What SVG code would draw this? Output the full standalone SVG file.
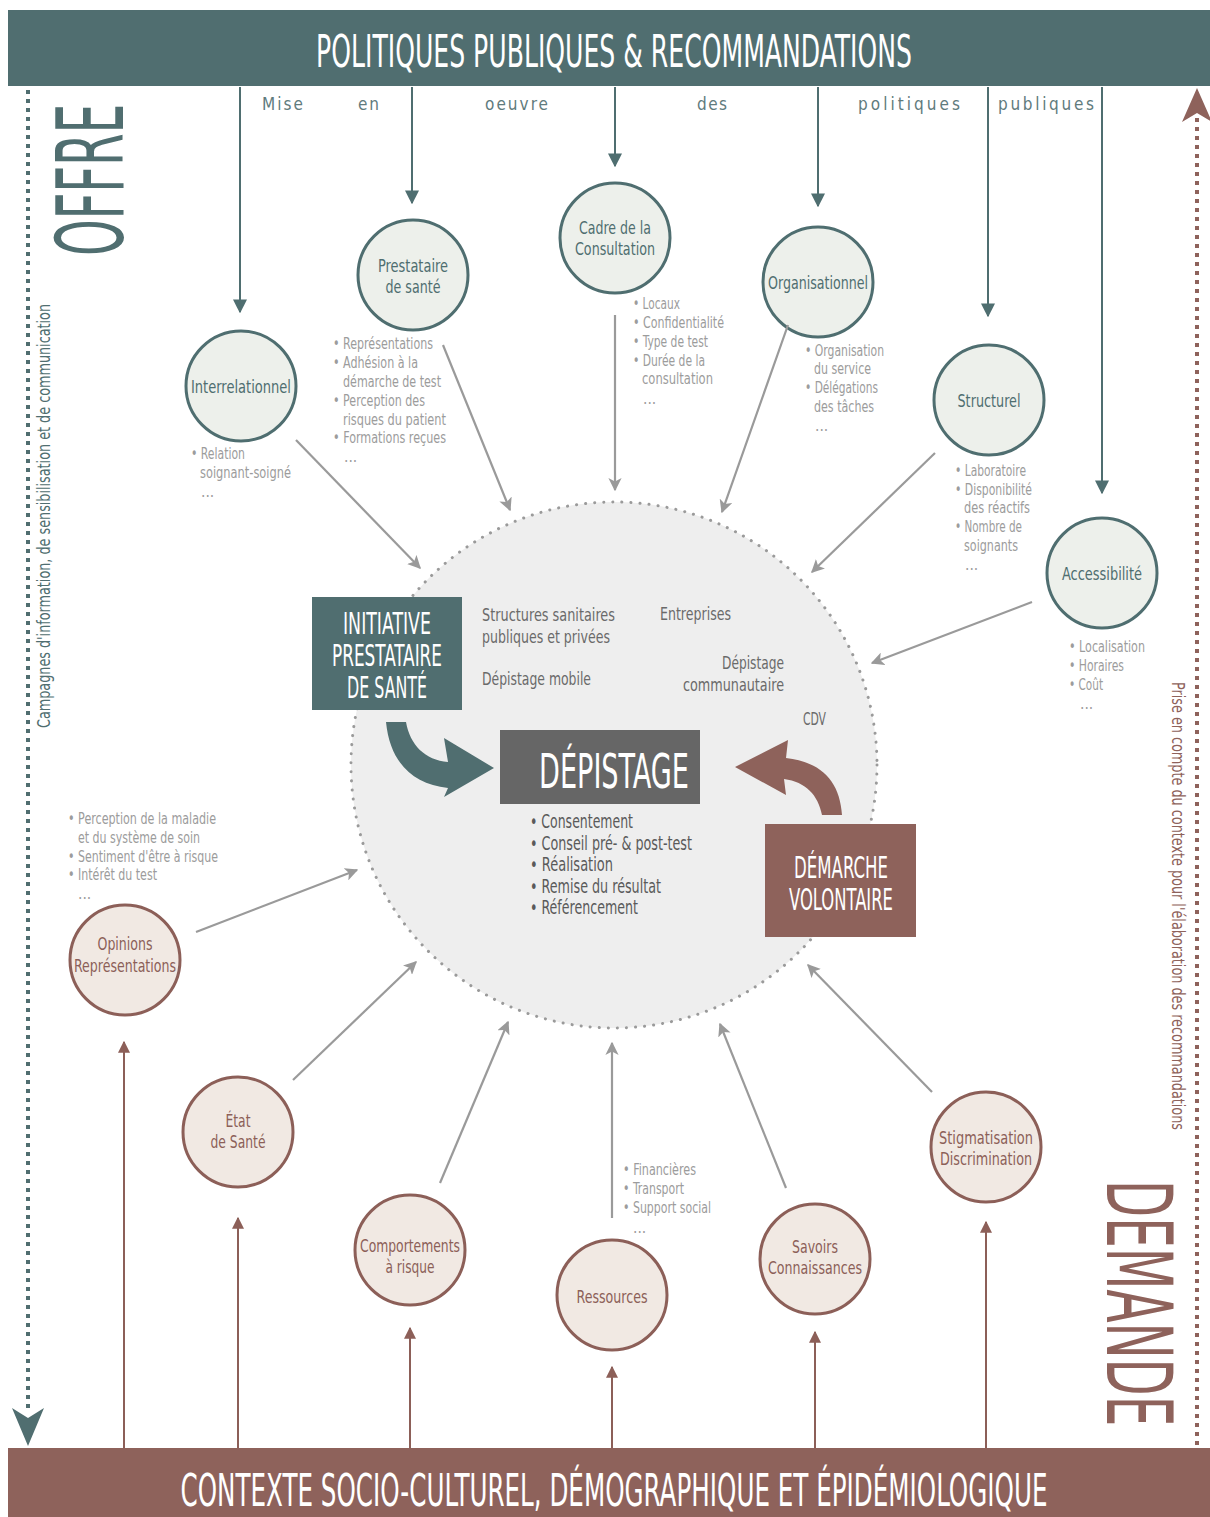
<svg xmlns="http://www.w3.org/2000/svg" width="1210" height="1517" viewBox="0 0 1210 1517">
<defs>
<style>
text{font-family:'DejaVu Sans Condensed','DejaVu Sans','Liberation Sans Narrow',sans-serif;font-stretch:condensed;}
.ann{font-size:15.5px;fill:#9c9c9c;}
.inn{font-size:18px;fill:#6a6a6a;}
.bul{font-size:19px;fill:#5a5a5a;}
.tl{font-size:18px;fill:#4f6e70;text-anchor:middle;}
.bl{font-size:18px;fill:#8c5f58;text-anchor:middle;}
.tc{fill:#edf0eb;stroke:#4f6e70;stroke-width:3;}
.bc{fill:#f1e9e3;stroke:#8c5f58;stroke-width:3;}
.ta{stroke:#4f6e70;stroke-width:2;fill:none;}
.ba{stroke:#8c5f58;stroke-width:2;fill:none;}
.ga{stroke:#9a9a9a;stroke-width:2.2;fill:none;}
.wt{fill:#ffffff;text-anchor:middle;}
</style>
<marker id="mt" viewBox="0 0 10 10" refX="9" refY="5" markerWidth="7" markerHeight="7" markerUnits="strokeWidth" orient="auto"><path d="M0,0 L10,5 L0,10 Z" fill="#4f6e70"/></marker>
<marker id="mb" viewBox="0 0 10 10" refX="9" refY="5" markerWidth="6" markerHeight="6" markerUnits="strokeWidth" orient="auto"><path d="M0,0 L10,5 L0,10 Z" fill="#8c5f58"/></marker>
<marker id="mg" viewBox="0 0 10 10" refX="9" refY="5" markerWidth="6" markerHeight="6" markerUnits="strokeWidth" orient="auto"><path d="M0,0 L10,5 L0,10 L2.5,5 Z" fill="#9a9a9a"/></marker>
</defs>
<rect width="1210" height="1517" fill="#ffffff"/>

<g id="top-banner">
<rect x="8" y="10" width="1202" height="76" fill="#506e70"/>
<text transform="translate(614,67) scale(0.6,1)" x="0" y="0" class="wt" font-size="44" textLength="993" lengthAdjust="spacingAndGlyphs">POLITIQUES PUBLIQUES &amp; RECOMMANDATIONS</text>
</g>
<g id="bottom-banner">
<rect x="8" y="1448" width="1202" height="69" fill="#8e625b"/>
<text transform="translate(614,1506) scale(0.6,1)" x="0" y="0" class="wt" font-size="44" textLength="1445" lengthAdjust="spacingAndGlyphs">CONTEXTE SOCIO-CULTUREL, DÉMOGRAPHIQUE ET ÉPIDÉMIOLOGIQUE</text>
</g>

<g id="side-offre">
<line x1="28" y1="90" x2="28" y2="1412" stroke="#506e70" stroke-width="4" stroke-dasharray="4,5"/>
<path d="M12,1408 L28,1418 L44,1408 L28,1446 Z" fill="#506e70"/>
<text transform="translate(123,256) rotate(-90) scale(0.53,1)" font-size="92" fill="#506e70" textLength="287" lengthAdjust="spacingAndGlyphs">OFFRE</text>
<text transform="translate(50,728) rotate(-90)" font-size="17" fill="#506e70" textLength="424" lengthAdjust="spacingAndGlyphs">Campagnes d'information, de sensibilisation et de communication</text>
</g>
<g id="side-demande">
<line x1="1197" y1="118" x2="1197" y2="1445" stroke="#8e625b" stroke-width="4" stroke-dasharray="4,5"/>
<path d="M1197,88 L1212,122 L1197,113 L1182,122 Z" fill="#8e625b"/>
<text transform="translate(1107,1180) rotate(90) scale(0.57,1)" font-size="90" fill="#8e625b" textLength="432" lengthAdjust="spacingAndGlyphs">DEMANDE</text>
<text transform="translate(1172,682) rotate(90)" font-size="17" fill="#8e625b" textLength="448" lengthAdjust="spacingAndGlyphs">Prise en compte  du contexte pour l'élaboration des recommandations</text>
</g>

<g id="mise-en-oeuvre" font-size="17" fill="#5f7b7d">
<text x="262" y="110" textLength="41" lengthAdjust="spacing">Mise</text>
<text x="358" y="110" textLength="21" lengthAdjust="spacing">en</text>
<text x="485" y="110" textLength="63" lengthAdjust="spacing">oeuvre</text>
<text x="697" y="110" textLength="30" lengthAdjust="spacing">des</text>
<text x="858" y="110" textLength="102" lengthAdjust="spacing">politiques</text>
<text x="998" y="110" textLength="96" lengthAdjust="spacing">publiques</text>
</g>

<g id="centre">
<circle cx="614" cy="765" r="263" fill="#eeeeee" stroke="#9a9a9a" stroke-width="3" stroke-dasharray="0.1,9" stroke-linecap="round"/>
<text class="inn" x="482" y="621" textLength="133" lengthAdjust="spacingAndGlyphs">Structures sanitaires</text>
<text class="inn" x="482" y="643" textLength="128" lengthAdjust="spacingAndGlyphs">publiques et privées</text>
<text class="inn" x="660" y="620" textLength="71" lengthAdjust="spacingAndGlyphs">Entreprises</text>
<text class="inn" x="482" y="685" textLength="109" lengthAdjust="spacingAndGlyphs">Dépistage mobile</text>
<text class="inn" x="784" y="669" text-anchor="end" textLength="62" lengthAdjust="spacingAndGlyphs">Dépistage</text>
<text class="inn" x="784" y="691" text-anchor="end" textLength="101" lengthAdjust="spacingAndGlyphs">communautaire</text>
<text class="inn" x="803" y="725" textLength="23" lengthAdjust="spacingAndGlyphs">CDV</text>
</g>

<g id="depistage">
<rect x="500" y="730" width="200" height="74" fill="#666666"/>
<text x="614" y="788" class="wt" font-size="48" textLength="150" lengthAdjust="spacingAndGlyphs">DÉPISTAGE</text>
<text class="bul" x="530" y="828" textLength="103" lengthAdjust="spacingAndGlyphs">• Consentement</text>
<text class="bul" x="530" y="850" textLength="162" lengthAdjust="spacingAndGlyphs">• Conseil pré- &amp; post-test</text>
<text class="bul" x="530" y="871" textLength="83" lengthAdjust="spacingAndGlyphs">• Réalisation</text>
<text class="bul" x="530" y="893" textLength="131" lengthAdjust="spacingAndGlyphs">• Remise du résultat</text>
<text class="bul" x="530" y="914" textLength="108" lengthAdjust="spacingAndGlyphs">• Référencement</text>
</g>

<g id="initiative">
<rect x="312" y="597" width="150" height="113" fill="#506e70"/>
<text x="387" y="634" class="wt" font-size="30" textLength="88" lengthAdjust="spacingAndGlyphs">INITIATIVE</text>
<text x="387" y="666" class="wt" font-size="30" textLength="110" lengthAdjust="spacingAndGlyphs">PRESTATAIRE</text>
<text x="387" y="698" class="wt" font-size="30" textLength="80" lengthAdjust="spacingAndGlyphs">DE SANTÉ</text>
</g>
<g id="demarche">
<rect x="765" y="824" width="151" height="113" fill="#8e625b"/>
<text x="841" y="878" class="wt" font-size="30" textLength="94" lengthAdjust="spacingAndGlyphs">DÉMARCHE</text>
<text x="841" y="910" class="wt" font-size="30" textLength="104" lengthAdjust="spacingAndGlyphs">VOLONTAIRE</text>
</g>

<g id="curved-arrows">
<path d="M386,722 C390,762 412,784 448,788 L444,797 L494,768 L444,738 L448,762 C425,760 410,745 406,722 Z" fill="#506e70"/>
<path d="M842,815 C840,782 822,762 786,758 L788,740 L735,767 L786,795 L784,779 C806,782 818,795 822,815 Z" fill="#8e625b"/>
</g>

<g id="interrelationnel"><circle class="tc" cx="241" cy="386" r="55"/><text class="tl" x="241" y="393" textLength="100" lengthAdjust="spacingAndGlyphs">Interrelationnel</text></g>
<g id="prestataire"><circle class="tc" cx="413" cy="275" r="55"/><text class="tl" x="413" y="272" textLength="70" lengthAdjust="spacingAndGlyphs">Prestataire</text><text class="tl" x="413" y="293" textLength="55" lengthAdjust="spacingAndGlyphs">de santé</text></g>
<g id="cadre"><circle class="tc" cx="615" cy="238" r="55"/><text class="tl" x="615" y="234" textLength="72" lengthAdjust="spacingAndGlyphs">Cadre de la</text><text class="tl" x="615" y="255" textLength="80" lengthAdjust="spacingAndGlyphs">Consultation</text></g>
<g id="organisationnel"><circle class="tc" cx="818" cy="282" r="55"/><text class="tl" x="818" y="289" textLength="100" lengthAdjust="spacingAndGlyphs">Organisationnel</text></g>
<g id="structurel"><circle class="tc" cx="989" cy="400" r="55"/><text class="tl" x="989" y="407" textLength="63" lengthAdjust="spacingAndGlyphs">Structurel</text></g>
<g id="accessibilite"><circle class="tc" cx="1102" cy="573" r="55"/><text class="tl" x="1102" y="580" textLength="80" lengthAdjust="spacingAndGlyphs">Accessibilité</text></g>

<g id="opinions"><circle class="bc" cx="125" cy="960" r="55"/><text class="bl" x="125" y="950" textLength="55" lengthAdjust="spacingAndGlyphs">Opinions</text><text class="bl" x="125" y="972" textLength="102" lengthAdjust="spacingAndGlyphs">Représentations</text></g>
<g id="etat-sante"><circle class="bc" cx="238" cy="1132" r="55"/><text class="bl" x="238" y="1127" textLength="25" lengthAdjust="spacingAndGlyphs">État</text><text class="bl" x="238" y="1148" textLength="55" lengthAdjust="spacingAndGlyphs">de Santé</text></g>
<g id="comportements"><circle class="bc" cx="410" cy="1250" r="55"/><text class="bl" x="410" y="1252" textLength="100" lengthAdjust="spacingAndGlyphs">Comportements</text><text class="bl" x="410" y="1273" textLength="49" lengthAdjust="spacingAndGlyphs">à risque</text></g>
<g id="ressources"><circle class="bc" cx="612" cy="1295" r="55"/><text class="bl" x="612" y="1303" textLength="71" lengthAdjust="spacingAndGlyphs">Ressources</text></g>
<g id="savoirs"><circle class="bc" cx="815" cy="1259" r="55"/><text class="bl" x="815" y="1253" textLength="46" lengthAdjust="spacingAndGlyphs">Savoirs</text><text class="bl" x="815" y="1274" textLength="94" lengthAdjust="spacingAndGlyphs">Connaissances</text></g>
<g id="stigmatisation"><circle class="bc" cx="986" cy="1147" r="55"/><text class="bl" x="986" y="1144" textLength="94" lengthAdjust="spacingAndGlyphs">Stigmatisation</text><text class="bl" x="986" y="1165" textLength="92" lengthAdjust="spacingAndGlyphs">Discrimination</text></g>

<g id="annotations">
<text class="ann" x="333" y="349" textLength="100" lengthAdjust="spacingAndGlyphs">• Représentations</text>
<text class="ann" x="333" y="368" textLength="85" lengthAdjust="spacingAndGlyphs">• Adhésion à la</text>
<text class="ann" x="343" y="387" textLength="98" lengthAdjust="spacingAndGlyphs">démarche de test</text>
<text class="ann" x="333" y="406" textLength="92" lengthAdjust="spacingAndGlyphs">• Perception des</text>
<text class="ann" x="343" y="425" textLength="103" lengthAdjust="spacingAndGlyphs">risques du patient</text>
<text class="ann" x="333" y="443" textLength="113" lengthAdjust="spacingAndGlyphs">• Formations reçues</text>
<text class="ann" x="344" y="462">...</text>

<text class="ann" x="191" y="459" textLength="54" lengthAdjust="spacingAndGlyphs">• Relation</text>
<text class="ann" x="200" y="478" textLength="91" lengthAdjust="spacingAndGlyphs">soignant-soigné</text>
<text class="ann" x="201" y="497">...</text>

<text class="ann" x="633" y="309" textLength="47" lengthAdjust="spacingAndGlyphs">• Locaux</text>
<text class="ann" x="633" y="328" textLength="91" lengthAdjust="spacingAndGlyphs">• Confidentialité</text>
<text class="ann" x="633" y="347" textLength="75" lengthAdjust="spacingAndGlyphs">• Type de test</text>
<text class="ann" x="633" y="366" textLength="72" lengthAdjust="spacingAndGlyphs">• Durée de la</text>
<text class="ann" x="642" y="384" textLength="71" lengthAdjust="spacingAndGlyphs">consultation</text>
<text class="ann" x="643" y="404">...</text>

<text class="ann" x="805" y="356" textLength="79" lengthAdjust="spacingAndGlyphs">• Organisation</text>
<text class="ann" x="814" y="374" textLength="57" lengthAdjust="spacingAndGlyphs">du service</text>
<text class="ann" x="805" y="393" textLength="73" lengthAdjust="spacingAndGlyphs">• Délégations</text>
<text class="ann" x="814" y="412" textLength="60" lengthAdjust="spacingAndGlyphs">des tâches</text>
<text class="ann" x="815" y="431">...</text>

<text class="ann" x="955" y="476" textLength="71" lengthAdjust="spacingAndGlyphs">• Laboratoire</text>
<text class="ann" x="955" y="495" textLength="77" lengthAdjust="spacingAndGlyphs">• Disponibilité</text>
<text class="ann" x="964" y="513" textLength="66" lengthAdjust="spacingAndGlyphs">des réactifs</text>
<text class="ann" x="955" y="532" textLength="67" lengthAdjust="spacingAndGlyphs">• Nombre de</text>
<text class="ann" x="964" y="551" textLength="54" lengthAdjust="spacingAndGlyphs">soignants</text>
<text class="ann" x="965" y="570">...</text>

<text class="ann" x="1069" y="652" textLength="76" lengthAdjust="spacingAndGlyphs">• Localisation</text>
<text class="ann" x="1069" y="671" textLength="55" lengthAdjust="spacingAndGlyphs">• Horaires</text>
<text class="ann" x="1069" y="690" textLength="34" lengthAdjust="spacingAndGlyphs">• Coût</text>
<text class="ann" x="1080" y="709">...</text>

<text class="ann" x="68" y="824" textLength="148" lengthAdjust="spacingAndGlyphs">• Perception de la maladie</text>
<text class="ann" x="78" y="843" textLength="122" lengthAdjust="spacingAndGlyphs">et du système de soin</text>
<text class="ann" x="68" y="862" textLength="150" lengthAdjust="spacingAndGlyphs">• Sentiment d'être à risque</text>
<text class="ann" x="68" y="880" textLength="89" lengthAdjust="spacingAndGlyphs">• Intérêt du test</text>
<text class="ann" x="78" y="899">...</text>

<text class="ann" x="623" y="1175" textLength="73" lengthAdjust="spacingAndGlyphs">• Financières</text>
<text class="ann" x="623" y="1194" textLength="61" lengthAdjust="spacingAndGlyphs">• Transport</text>
<text class="ann" x="623" y="1213" textLength="88" lengthAdjust="spacingAndGlyphs">• Support social</text>
<text class="ann" x="633" y="1233">...</text>
</g>

<g id="connectors">
<line class="ta" x1="240" y1="87" x2="240" y2="312" marker-end="url(#mt)"/>
<line class="ta" x1="412" y1="87" x2="412" y2="203" marker-end="url(#mt)"/>
<line class="ta" x1="615" y1="87" x2="615" y2="166" marker-end="url(#mt)"/>
<line class="ta" x1="818" y1="87" x2="818" y2="206" marker-end="url(#mt)"/>
<line class="ta" x1="988" y1="87" x2="988" y2="316" marker-end="url(#mt)"/>
<line class="ta" x1="1102" y1="87" x2="1102" y2="493" marker-end="url(#mt)"/>

<line class="ba" x1="124" y1="1448" x2="124" y2="1042" marker-end="url(#mb)"/>
<line class="ba" x1="238" y1="1448" x2="238" y2="1218" marker-end="url(#mb)"/>
<line class="ba" x1="410" y1="1448" x2="410" y2="1328" marker-end="url(#mb)"/>
<line class="ba" x1="612" y1="1448" x2="612" y2="1367" marker-end="url(#mb)"/>
<line class="ba" x1="815" y1="1448" x2="815" y2="1332" marker-end="url(#mb)"/>
<line class="ba" x1="986" y1="1448" x2="986" y2="1222" marker-end="url(#mb)"/>

<line class="ga" x1="296" y1="440" x2="420" y2="568" marker-end="url(#mg)"/>
<line class="ga" x1="443" y1="345" x2="510" y2="510" marker-end="url(#mg)"/>
<line class="ga" x1="615" y1="315" x2="615" y2="490" marker-end="url(#mg)"/>
<line class="ga" x1="788" y1="325" x2="722" y2="512" marker-end="url(#mg)"/>
<line class="ga" x1="935" y1="453" x2="812" y2="572" marker-end="url(#mg)"/>
<line class="ga" x1="1032" y1="602" x2="872" y2="663" marker-end="url(#mg)"/>
<line class="ga" x1="196" y1="932" x2="357" y2="870" marker-end="url(#mg)"/>
<line class="ga" x1="293" y1="1080" x2="416" y2="962" marker-end="url(#mg)"/>
<line class="ga" x1="440" y1="1183" x2="508" y2="1022" marker-end="url(#mg)"/>
<line class="ga" x1="612" y1="1218" x2="612" y2="1043" marker-end="url(#mg)"/>
<line class="ga" x1="786" y1="1188" x2="720" y2="1024" marker-end="url(#mg)"/>
<line class="ga" x1="932" y1="1092" x2="808" y2="965" marker-end="url(#mg)"/>
</g>
</svg>
